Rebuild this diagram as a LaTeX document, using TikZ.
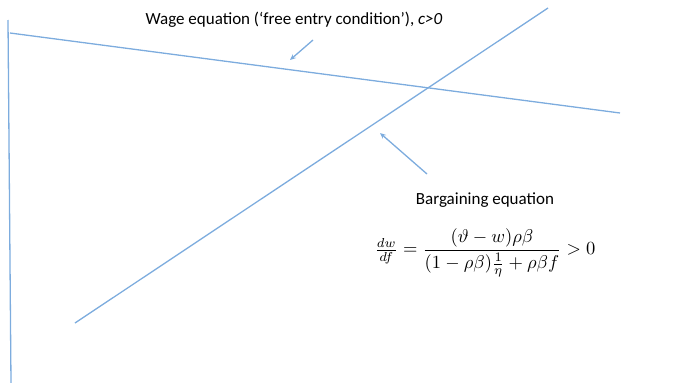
\documentclass[tikz,border=0pt]{standalone}
\usepackage{amsmath,amssymb}
\usepackage{fontspec}
\setmainfont{Carlito}
\usetikzlibrary{arrows.meta, positioning}
\definecolor{lineblue}{RGB}{125,172,222}

\begin{document}
\begin{tikzpicture}[
    x=1pt, y=-1pt,
    curve/.style={draw=lineblue, line width=1.3pt},
    pointer/.style={draw=lineblue, line width=1.3pt, -{Stealth[length=6pt,width=5pt]}},
    lbl/.style={font=\fontsize{17}{20}\selectfont, inner sep=0pt},
]
\useasboundingbox (0,0) rectangle (678,383);

% axis
\coordinate (top) at (8,20);
\coordinate (bottom) at (11,383);
\draw[curve] (top) -- (bottom);

% curves
\coordinate (wageL) at (10,33);
\coordinate (wageR) at (620,113);
\coordinate (bargL) at (75,323);
\coordinate (bargR) at (548,8);
\draw[curve] (wageL) -- (wageR);
\draw[curve] (bargL) -- (bargR);

% labels
\node[lbl] (wage) at (294,20) {Wage equation (‘free entry condition’), \textit{c>0}};
\node[lbl] (barg) at (485,200) {Bargaining equation};
\node[inner sep=0pt] (eqn) at (485,253)
    {\scalebox{1.85}{$\frac{dw}{df} = \dfrac{(\vartheta - w)\rho\beta}{(1-\rho\beta)\frac{1}{\eta} + \rho\beta f} > 0$}};

% pointers
\coordinate (wageA) at (313,40);
\coordinate (wageB) at (290,60);
\coordinate (bargA) at (427,174);
\coordinate (bargB) at (380,133);
\draw[pointer] (wageA) -- (wageB);
\draw[pointer] (bargA) -- (bargB);

\end{tikzpicture}
\end{document}
